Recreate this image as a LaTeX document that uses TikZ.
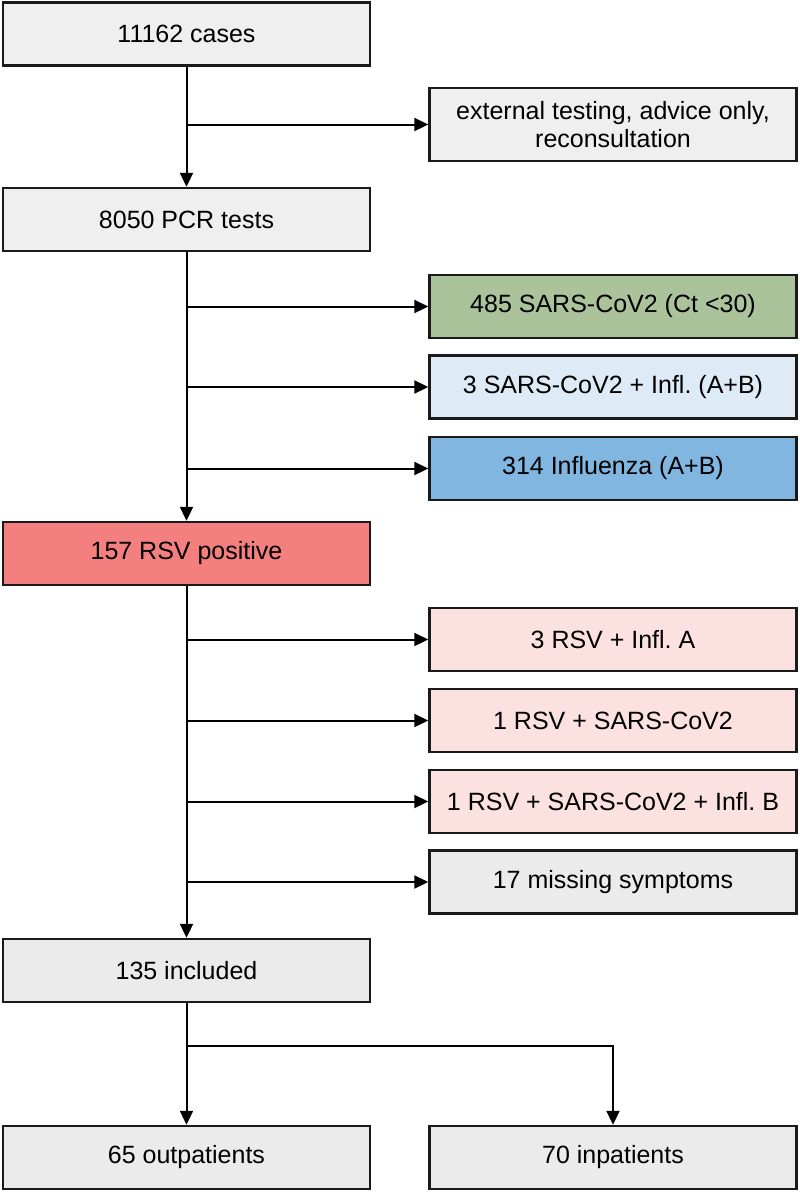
\documentclass[tikz,border=0pt]{standalone}
\usepackage{fontspec}
\setmainfont{Liberation Sans}
\usetikzlibrary{arrows.meta}
\frenchspacing
\definecolor{gfill}{HTML}{EFEFEF}
\definecolor{gfilltwo}{HTML}{EBEBEB}
\definecolor{green1}{HTML}{AAC39B}
\definecolor{lblue}{HTML}{DEEAF6}
\definecolor{blue1}{HTML}{80B6DF}
\definecolor{red1}{HTML}{F47F7F}
\definecolor{pink1}{HTML}{FCE1E1}
\definecolor{border}{HTML}{1A1A1A}
\tikzset{
  box/.style={draw=border, line width=2.4pt, rectangle, minimum width=367pt, minimum height=63pt,
    inner sep=0pt, align=center, font=\fontsize{25}{28}\selectfont, text=black},
  conn/.style={line width=2pt, draw=black},
  arr/.style={conn, -{Triangle[length=14pt,width=13pt]}},
}
\begin{document}
\begin{tikzpicture}[x=1pt,y=-1pt]
\useasboundingbox (0,0) rectangle (800,1192);
% left column
\node[box, fill=gfill] (cases) at (186.5,34) {11162 cases};
\node[box, fill=gfill] (pcr) at (186.5,219.5) {8050 PCR tests};
\node[box, fill=red1] (rsv) at (186.5,553.5) {157 RSV positive};
\node[box, fill=gfilltwo] (incl) at (186.5,970.5) {135 included};
\node[box, fill=gfilltwo] (out) at (186.5,1157.5) {65 outpatients};
% right column
\node[box, fill=gfill, minimum height=73pt] (ext) at (613,124.5) {external testing, advice only,\\reconsultation};
\node[box, fill=green1] (sars) at (613,306.5) {485 SARS-CoV2 (Ct <30)};
\node[box, fill=lblue] (sarsinf) at (613,387) {3 SARS-CoV2 + Infl.\ (A+B)};
\node[box, fill=blue1] (infl) at (613,468.5) {314 Influenza (A+B)};
\node[box, fill=pink1] (rsvA) at (613,639.5) {3 RSV + Infl.\ A};
\node[box, fill=pink1] (rsvS) at (613,720.5) {1 RSV + SARS-CoV2};
\node[box, fill=pink1] (rsvSB) at (613,801.5) {1 RSV + SARS-CoV2 + Infl.\ B};
\node[box, fill=gfilltwo] (miss) at (613,882) {17 missing symptoms};
\node[box, fill=gfilltwo] (inp) at (613,1157.5) {70 inpatients};
% connectors
\draw[arr] (cases.south) -- (pcr.north);
\draw[arr] (cases.south |- ext.west) -- (ext.west);
\draw[arr] (pcr.south) -- (rsv.north);
\draw[arr] (pcr.south |- sars.west) -- (sars.west);
\draw[arr] (pcr.south |- sarsinf.west) -- (sarsinf.west);
\draw[arr] (pcr.south |- infl.west) -- (infl.west);
\draw[arr] (rsv.south) -- (incl.north);
\draw[arr] (rsv.south |- rsvA.west) -- (rsvA.west);
\draw[arr] (rsv.south |- rsvS.west) -- (rsvS.west);
\draw[arr] (rsv.south |- rsvSB.west) -- (rsvSB.west);
\draw[arr] (rsv.south |- miss.west) -- (miss.west);
\draw[arr] (incl.south) -- (out.north);
\coordinate (sp) at (186.5,1046);
\draw[arr] (incl.south |- sp) -| (inp.north);
\end{tikzpicture}
\end{document}
